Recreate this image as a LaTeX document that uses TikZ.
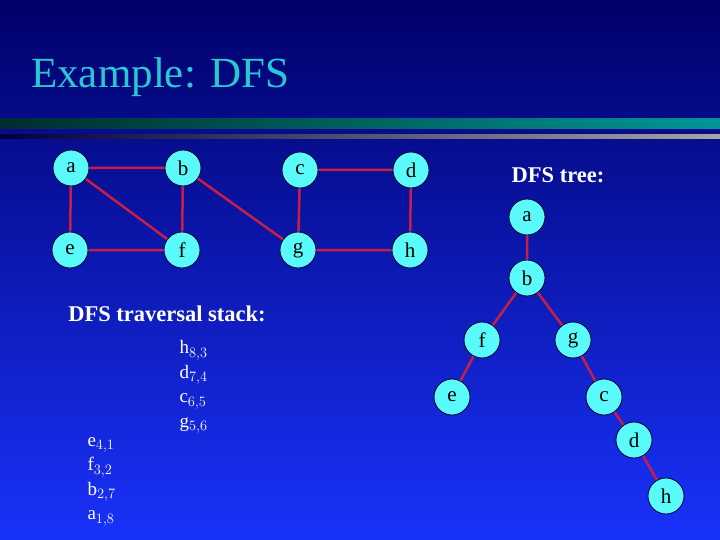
\documentclass[tikz,border=0pt]{standalone}
\usepackage{fontspec}
\setmainfont{Liberation Serif}
\definecolor{bgtop}{RGB}{0,0,105}
\definecolor{bgbot}{RGB}{25,50,250}
\definecolor{nodecyan}{RGB}{90,250,250}
\definecolor{edgered}{RGB}{200,30,70}
\definecolor{titlecyan}{RGB}{40,200,210}
\definecolor{barteal}{RGB}{0,150,150}
\tikzset{
vert/.style={circle, draw=black!80!blue, thick, fill=nodecyan, minimum size=36pt, inner sep=0pt, font=\fontsize{21}{21}\selectfont},
link/.style={draw=edgered, line width=2.5pt},
label/.style={text=white, font=\bfseries\fontsize{22.5}{24}\selectfont},
stack/.style={text=white, align=left, font=\fontsize{19}{24.5}\selectfont}
}
\begin{document}
\begin{tikzpicture}[x=1pt,y=-1pt]
\shade[top color=bgtop, bottom color=bgbot] (0,0) rectangle (720,540);
\useasboundingbox (0,0) rectangle (720,540);

% title and bars
\node[anchor=base west, text=titlecyan, font=\fontsize{43}{43}\selectfont, inner sep=0pt] (title) at (31,88) {Example: DFS};
\shade[left color=black!70!barteal, right color=barteal] (0,119) rectangle (720,129);
\shade[left color=bgtop!60!black, right color=gray!70] (0,135) rectangle (720,139);

% the graph
\node[vert] (a) at (71,168) {a};
\node[vert] (b) at (183,168) {b};
\node[vert] (c) at (300,170) {c};
\node[vert] (d) at (411,170) {d};
\node[vert] (e) at (70,250) {e};
\node[vert] (f) at (182,250) {f};
\node[vert] (g) at (298,250) {g};
\node[vert] (h) at (410,250) {h};
\path[link] (a) -- (b) (a) -- (e) (a) -- (f) (b) -- (f) (b) -- (g)
  (c) -- (d) (c) -- (g) (d) -- (h) (e) -- (f) (g) -- (h);

% the tree
\node[label] (treelbl) at (558,175) {DFS tree:};
\node[vert] (ta) at (527,217) {a};
\node[vert] (tb) at (527,278) {b};
\node[vert] (tf) at (482,340) {f};
\node[vert] (tg) at (573,340) {g};
\node[vert] (te) at (452,397) {e};
\node[vert] (tc) at (604,397) {c};
\node[vert] (td) at (634,440) {d};
\node[vert] (th) at (666,496) {h};
\path[link] (ta) -- (tb) (tb) -- (tf) (tb) -- (tg) (tf) -- (te)
  (tg) -- (tc) (tc) -- (td) (td) -- (th);

% the stack
\node[label] (stacklbl) at (167,314) {DFS traversal stack:};
\node[stack, anchor=north west] (top) at (176,337) {h$_{8,3}$\\d$_{7,4}$\\c$_{6,5}$\\g$_{5,6}$};
\node[stack, anchor=north west] (bottom) at (84,434) {e$_{4,1}$\\f$_{3,2}$\\b$_{2,7}$\\a$_{1,8}$};
\end{tikzpicture}
\end{document}
